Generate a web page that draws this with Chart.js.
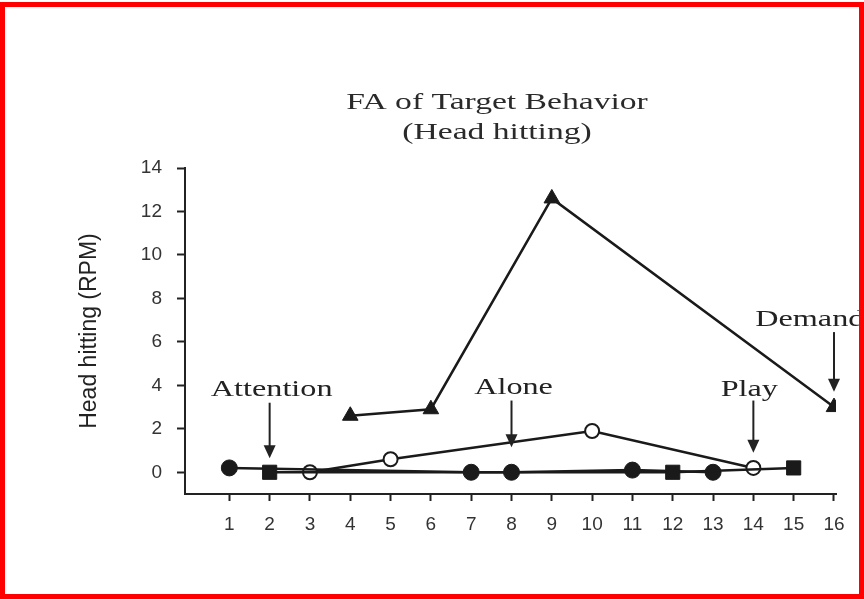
<!DOCTYPE html>
<html>
<head>
<meta charset="utf-8">
<title>FA of Target Behavior</title>
<script src="https://cdn.jsdelivr.net/npm/chart.js@4.4.1/dist/chart.umd.min.js"></script>
<style>
    html, body { margin: 0; padding: 0; background: #fff; }
    #wrap { position: relative; width: 864px; height: 599px; }
    #wrap canvas { position: absolute; left: 0; top: 0; }
    #frame {
        position: absolute; left: 0; top: 2px; width: 864px; height: 597px;
        box-sizing: border-box; border: 5px solid #ff0000; pointer-events: none;
    }
</style>
</head>
<body>
<div id="wrap">
    <canvas id="faChart" width="864" height="599"></canvas>
    <div id="frame"></div>
</div>
<script>
/* -------------------------------------------------
    DATA: head hitting (responses per minute) by session
------------------------------------------------- */
const demandSessions = [4, 6, 9, 16];
const demandValues = [2.6, 2.9, 12.6, 3.0];

const playSessions = [3, 5, 10, 14];
const playValues = [0, 0.6, 1.9, 0.2];

const aloneSessions = [1, 7, 8, 11, 13];
const aloneValues = [0.2, 0, 0, 0.1, 0];

const attentionSessions = [2, 12, 15];
const attentionValues = [0, 0, 0.2];

const xTickValues = [1, 2, 3, 4, 5, 6, 7, 8, 9, 10, 11, 12, 13, 14, 15, 16];
const yTickValues = [0, 2, 4, 6, 8, 10, 12, 14];

const titleLines = ['FA of Target Behavior', '(Head hitting)'];
const yAxisTitle = 'Head hitting (RPM)';

// condition labels with arrows (in session / RPM units)
const noteLabels = ['Attention', 'Alone', 'Play', 'Demand'];
const noteSessions = [2, 8, 14, 16];
const noteTextX = [2.05, 8.05, 13.9, 15.4];
const noteTextY = [3.8, 3.9, 3.8, 7.0];
const noteArrowFrom = [3.2, 3.3, 3.3, 6.45];
const noteArrowTo = [0.65, 1.15, 0.9, 3.7];

// build {x, y} points for the scatter/line datasets
function toPoints(xs, ys) {
    return xs.map((x, i) => ({ x: x, y: ys[i] }));
}

// draw text stretched wider, like the reference scan
function stretchedText(ctx, text, x, y, sx) {
    ctx.save();
    ctx.translate(x, y);
    ctx.scale(sx, 1);
    ctx.fillText(text, 0, 0);
    ctx.restore();
}

/* -------------------------------------------------
    PLUGIN: title and condition arrows
------------------------------------------------- */
const notesPlugin = {
    id: 'notes',
    afterDatasetsDraw(chart) {
        const ctx = chart.ctx;
        const xs = chart.scales.x;
        const ys = chart.scales.y;
        ctx.save();
        ctx.fillStyle = '#222';
        ctx.strokeStyle = '#222';
        ctx.lineWidth = 2;
        ctx.font = '23px "Liberation Serif", serif';
        ctx.textAlign = 'center';
        ctx.textBaseline = 'middle';
        noteLabels.forEach((label, i) => {
            stretchedText(ctx, label, xs.getPixelForValue(noteTextX[i]), ys.getPixelForValue(noteTextY[i]), 1.4);
            const ax = xs.getPixelForValue(noteSessions[i]);
            const y0 = ys.getPixelForValue(noteArrowFrom[i]);
            const y1 = ys.getPixelForValue(noteArrowTo[i]);
            ctx.beginPath();
            ctx.moveTo(ax, y0);
            ctx.lineTo(ax, y1 - 10);
            ctx.stroke();
            ctx.beginPath();
            ctx.moveTo(ax - 6, y1 - 13);
            ctx.lineTo(ax + 6, y1 - 13);
            ctx.lineTo(ax, y1);
            ctx.closePath();
            ctx.fill();
        });

        // chart title, two lines
        ctx.font = '24px "Liberation Serif", serif';
        ctx.fillStyle = '#2a2a2a';
        titleLines.forEach((line, i) => {
            stretchedText(ctx, line, 497, 103 + i * 30, 1.4);
        });
        ctx.restore();
    }
};

/* -------------------------------------------------
    CHART
------------------------------------------------- */
const lineColor = '#1a1a1a';
const tickFont = { family: '"Liberation Sans", Arial, sans-serif', size: 19 };

new Chart(document.getElementById('faChart'), {
    type: 'scatter',
    data: {
        datasets: [
            {
                label: 'Attention',
                data: toPoints(attentionSessions, attentionValues),
                showLine: true,
                borderColor: lineColor,
                backgroundColor: lineColor,
                borderWidth: 2.5,
                pointStyle: 'rect',
                pointRadius: 10,
                pointBorderWidth: 1
            },
            {
                label: 'Alone',
                data: toPoints(aloneSessions, aloneValues),
                showLine: true,
                borderColor: lineColor,
                backgroundColor: lineColor,
                borderWidth: 2.5,
                pointStyle: 'circle',
                pointRadius: 8,
                pointBorderWidth: 1
            },
            {
                label: 'Play',
                data: toPoints(playSessions, playValues),
                showLine: true,
                borderColor: lineColor,
                backgroundColor: '#ffffff',
                borderWidth: 2.5,
                pointStyle: 'circle',
                pointRadius: 7,
                pointBorderWidth: 2
            },
            {
                label: 'Demand',
                data: toPoints(demandSessions, demandValues),
                showLine: true,
                borderColor: lineColor,
                backgroundColor: lineColor,
                borderWidth: 2.5,
                pointStyle: 'triangle',
                pointRadius: 9,
                pointBorderWidth: 1
            }
        ]
    },
    options: {
        responsive: false,
        animation: false,
        events: [],
        layout: {
            padding: { top: 168, left: 72, right: 28, bottom: 0 }
        },
        plugins: {
            legend: { display: false },
            title: { display: false },
            tooltip: { enabled: false }
        },
        scales: {
            x: {
                type: 'linear',
                min: -0.1,
                max: 16.05,
                afterBuildTicks: (scale) => {
                    scale.ticks = xTickValues.map(v => ({ value: v }));
                },
                afterFit: (scale) => { scale.height = 105; },
                grid: {
                    drawOnChartArea: false,
                    drawTicks: true,
                    tickLength: 7,
                    tickColor: '#222',
                    tickWidth: 2
                },
                border: { display: true, color: '#222', width: 2 },
                ticks: {
                    color: '#333',
                    font: tickFont,
                    padding: 12,
                    maxRotation: 0,
                    autoSkip: false
                }
            },
            y: {
                min: -1,
                max: 14,
                afterBuildTicks: (scale) => {
                    scale.ticks = yTickValues.map(v => ({ value: v }));
                },
                afterFit: (scale) => { scale.width = 113; },
                grid: {
                    drawOnChartArea: false,
                    drawTicks: true,
                    tickLength: 8,
                    tickColor: '#222',
                    tickWidth: 2
                },
                border: { display: true, color: '#222', width: 2 },
                ticks: {
                    color: '#333',
                    font: tickFont,
                    padding: 15
                },
                title: {
                    display: true,
                    text: yAxisTitle,
                    color: '#222',
                    font: { family: '"Liberation Sans", Arial, sans-serif', size: 23 }
                }
            }
        }
    },
    plugins: [notesPlugin]
});
</script>
</body>
</html>
